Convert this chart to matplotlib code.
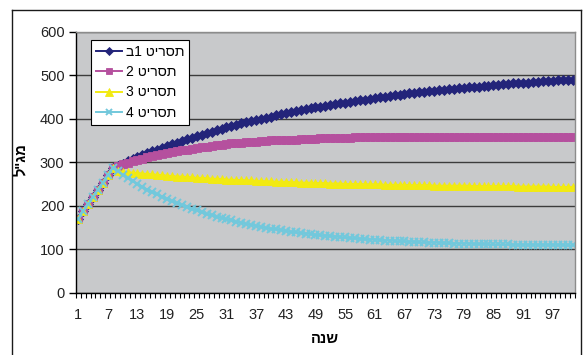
import matplotlib
matplotlib.use("Agg")
import matplotlib.pyplot as plt
from matplotlib.lines import Line2D

# ----------------------------
# Data
# ----------------------------
# years 1..8 are shared by all scenarios
ramp = [170, 187, 203, 220, 237, 253, 270, 287]

s1_tail = [292, 297, 302, 307, 311, 316, 320, 325, 329, 333,
           337, 341, 345, 349, 353, 356, 360, 363, 367, 370,
           373, 377, 380, 383, 386, 389, 392, 394, 397, 400,
           402, 405, 408, 410, 412, 415, 417, 419, 422, 424,
           426, 428, 430, 432, 434, 436, 437, 439, 441, 443,
           444, 446, 448, 449, 451, 452, 454, 455, 457, 458,
           459, 461, 462, 463, 464, 466, 467, 468, 469, 470,
           471, 472, 473, 474, 475, 476, 477, 478, 479, 480,
           481, 482, 483, 483, 484, 485, 486, 487, 487, 488,
           489, 489, 490]

s2_tail = [291, 295, 299, 302, 305, 308, 311, 314, 316, 319,
           321, 323, 325, 327, 329, 331, 333, 335, 336, 338,
           339, 340, 342, 343, 344, 345, 346, 347, 347, 348,
           349, 350, 350, 351, 351, 352, 352, 353, 353, 354,
           354, 355, 355, 355, 356, 356, 356, 356, 357, 357,
           357, 357, 357, 358, 358, 358, 358, 358, 358, 358,
           358, 358, 359, 359, 359, 359, 359, 359, 359, 359,
           359, 359, 359, 359, 359, 359, 359, 359, 359, 359,
           359, 359, 359, 359, 359, 359, 359, 359, 359, 359,
           359, 359, 359]

s3_tail = [280, 278, 277, 276, 275, 274, 273, 272, 271, 270,
           269, 268, 267, 267, 266, 265, 264, 264, 263, 262,
           262, 261, 260, 260, 259, 259, 258, 258, 257, 257,
           256, 256, 255, 255, 255, 254, 254, 253, 253, 253,
           252, 252, 252, 251, 251, 251, 250, 250, 250, 250,
           249, 249, 249, 249, 248, 248, 248, 248, 248, 247,
           247, 247, 247, 247, 246, 246, 246, 246, 246, 246,
           246, 246, 245, 245, 245, 245, 245, 245, 245, 245,
           245, 244, 244, 244, 244, 244, 244, 244, 243, 243,
           243, 243, 243]

s4_tail = [279, 271, 264, 257, 250, 243, 237, 231, 226, 220,
           215, 210, 206, 201, 197, 193, 189, 185, 181, 178,
           175, 172, 169, 166, 163, 161, 158, 156, 154, 151,
           149, 147, 146, 144, 142, 140, 139, 137, 136, 135,
           133, 132, 131, 130, 129, 128, 127, 126, 125, 124,
           123, 122, 122, 121, 120, 120, 119, 118, 118, 117,
           117, 116, 116, 115, 115, 115, 114, 114, 113, 113,
           113, 113, 112, 112, 112, 111, 111, 111, 111, 111,
           110, 110, 110, 110, 110, 110, 110, 110, 110, 110,
           110, 109, 109]

series_names = ["תסריט 1ב", "תסריט 2", "תסריט 3", "תסריט 4"]
x_title = "שנה"
y_title = 'מג"ל'
y_ticks = [0, 100, 200, 300, 400, 500, 600]
label_step = 6


def heb(s):
    """matplotlib has no bidi support: flip Hebrew to visual order."""
    return s[::-1]


plt.rcParams['font.family'] = ['Liberation Sans', 'DejaVu Sans']

series = [ramp + s1_tail, ramp + s2_tail, ramp + s3_tail, ramp + s4_tail]
years = list(range(1, len(series[0]) + 1))

colors = ['#23247a', '#b5509e', '#f2ea12', '#72c8dc']
markers = ['D', 's', '^', 'x']
msizes = [5.2, 5.6, 6.0, 5.6]

W, H = 584, 355
fig = plt.figure(figsize=(W / 100, H / 100), dpi=100)
left, right, top, bottom = 75.7, 575.0, 31.7, 292.7
ax = fig.add_axes([left / W, 1 - bottom / H, (right - left) / W, (bottom - top) / H])
ax.set_facecolor('#c8c9cb')

for s, c, m, ms, name in zip(series, colors, markers, msizes, series_names):
    ax.plot(years, s, color=c, lw=1.4, marker=m, ms=ms, mfc=c, mec=c,
            mew=1.4 if m == 'x' else 0.6, label=heb(name))

ax.set_xlim(0.5, len(years) + 0.5)
ax.set_ylim(y_ticks[0], y_ticks[-1])
ax.set_yticks(y_ticks)
ax.yaxis.grid(True, color='#3c3c3c', lw=1)
ax.set_axisbelow(True)

label_pos = years[::label_step]
ax.set_xticks(label_pos)
ax.set_xticklabels([str(v) for v in label_pos])
ax.set_xticks([v - 0.5 for v in years] + [years[-1] + 0.5], minor=True)
ax.tick_params(axis='x', which='major', length=0, pad=11, labelsize=10.5, colors='#222222')
ax.tick_params(axis='x', which='minor', length=3.5, width=0.8, direction='out')
ax.tick_params(axis='y', length=5, width=1, pad=3, labelsize=10.5, colors='#222222')
ax.tick_params(axis='both', which='both', color='black')

for side in ['left', 'bottom']:
    ax.spines[side].set_color('black')
    ax.spines[side].set_linewidth(1)
for side in ['top', 'right']:
    ax.spines[side].set_color('#8c8c8c')
    ax.spines[side].set_linewidth(1)

leg = ax.legend(loc='upper left', bbox_to_anchor=(0.03, 0.968), fontsize=10,
                frameon=True, fancybox=False, edgecolor='black', framealpha=1,
                borderpad=0.35, labelspacing=0.45, handlelength=1.9,
                handletextpad=0.3, borderaxespad=0, markerscale=0.85)
leg.get_frame().set_linewidth(0.8)

fig.text(325 / W, 1 - 339 / H, heb(x_title), ha='center', va='center',
         fontsize=10.5, fontweight='bold')
fig.text(21 / W, 1 - 160 / H, heb(y_title), ha='center', va='center',
         rotation=90, fontsize=10.5, fontweight='bold')

# outer chart frame (bottom edge is cut off in the reference)
fx0, fx1, fy0 = 11.5 / W, 581 / W, 1 - 9.5 / H
for xs, ys in [([fx0, fx0], [fy0, 0]), ([fx0, fx1], [fy0, fy0]), ([fx1, fx1], [fy0, 0])]:
    fig.add_artist(Line2D(xs, ys, transform=fig.transFigure, color='#1a1a1a', lw=1))

fig.savefig('out.png', dpi=100)
